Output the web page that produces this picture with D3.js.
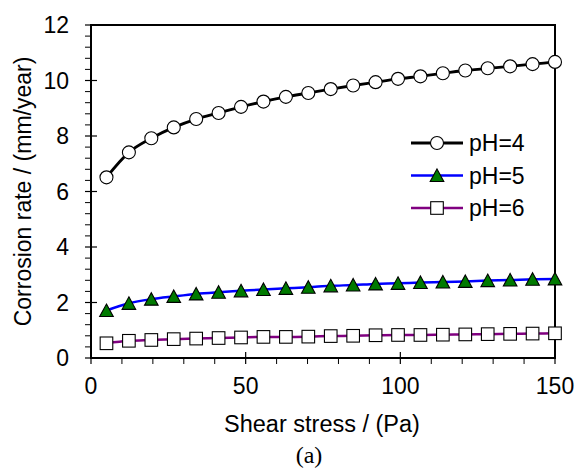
<!DOCTYPE html>
<html>
<head>
  <meta charset="utf-8">
  <title>Corrosion rate vs shear stress</title>
  <script src="https://d3js.org/d3.v7.min.js"></script>
  <style>
    html, body { margin: 0; background: #fff; overflow: hidden; }
    text { font-family: "Liberation Sans", Arial, sans-serif; fill: #000; }
  </style>
</head>
<body>
  <div id="chart"></div>
  <script>
    // shear stress (Pa)
    const shear = [5, 12.25, 19.5, 26.75, 34, 41.25, 48.5, 55.75, 63, 70.25, 77.5,
                   84.75, 92, 99.25, 106.5, 113.75, 121, 128.25, 135.5, 142.75, 150];
    // corrosion rate (mm/year)
    const ph4 = [6.51, 7.41, 7.92, 8.31, 8.61, 8.83, 9.05, 9.24, 9.41, 9.55, 9.69,
                 9.82, 9.94, 10.06, 10.15, 10.26, 10.36, 10.44, 10.51, 10.59, 10.67];
    const ph5 = [1.71, 1.97, 2.12, 2.22, 2.31, 2.37, 2.42, 2.47, 2.51, 2.55, 2.60,
                 2.63, 2.67, 2.69, 2.72, 2.74, 2.76, 2.79, 2.81, 2.84, 2.85];
    const ph6 = [0.53, 0.62, 0.65, 0.68, 0.70, 0.72, 0.74, 0.76, 0.76, 0.77, 0.79,
                 0.80, 0.82, 0.83, 0.83, 0.84, 0.85, 0.86, 0.87, 0.88, 0.89];
    const seriesNames = ['pH=4', 'pH=5', 'pH=6'];
    const xTicks = [0, 50, 100, 150];
    const yTicks = [0, 2, 4, 6, 8, 10, 12];

    const W = 575, H = 468;
    const m = { left: 91, right: 20, top: 25, bottom: 110 };

    const svg = d3.select('#chart').append('svg')
      .attr('width', W).attr('height', H);

    const x = d3.scaleLinear().domain([0, 150]).range([m.left, W - m.right]);
    const y = d3.scaleLinear().domain([0, 12]).range([H - m.bottom, m.top]);

    const series = [
      { name: seriesNames[0], values: ph4, line: '#000', width: 2.8, shape: 'circle', fill: '#fff' },
      { name: seriesNames[1], values: ph5, line: '#0000ff', width: 2.5, shape: 'triangle', fill: '#007a00' },
      { name: seriesNames[2], values: ph6, line: '#800080', width: 2.5, shape: 'square', fill: '#fff' }
    ];

    // frame
    svg.append('rect')
      .attr('x', x(0)).attr('y', y(12))
      .attr('width', x(150) - x(0)).attr('height', y(0) - y(12))
      .attr('fill', 'none').attr('stroke', '#000').attr('stroke-width', 2);

    // minor ticks
    const xMinor = d3.range(0, 151, 10).filter(v => v % 50 !== 0);
    svg.append('g').selectAll('line').data(xMinor).join('line')
      .attr('x1', d => x(d)).attr('x2', d => x(d))
      .attr('y1', y(0)).attr('y2', y(0) + 6)
      .attr('stroke', '#000').attr('stroke-width', 1);
    const yMinor = d3.range(0, 12.01, 0.4).filter(v => Math.abs(v / 2 - Math.round(v / 2)) > 0.01);
    svg.append('g').selectAll('line').data(yMinor).join('line')
      .attr('x1', x(0) - 6).attr('x2', x(0))
      .attr('y1', d => y(d)).attr('y2', d => y(d))
      .attr('stroke', '#000').attr('stroke-width', 1);

    // major ticks (crossing)
    svg.append('g').selectAll('line').data(xTicks).join('line')
      .attr('x1', d => x(d)).attr('x2', d => x(d))
      .attr('y1', y(0) - 6).attr('y2', y(0) + 6)
      .attr('stroke', '#000').attr('stroke-width', 1.2);
    svg.append('g').selectAll('line').data(yTicks).join('line')
      .attr('x1', x(0) - 6).attr('x2', x(0) + 6)
      .attr('y1', d => y(d)).attr('y2', d => y(d))
      .attr('stroke', '#000').attr('stroke-width', 1.2);

    // tick labels
    svg.append('g').selectAll('text').data(xTicks).join('text')
      .attr('x', d => x(d)).attr('y', 386).attr('dy', '0.35em')
      .attr('text-anchor', 'middle').attr('font-size', 23)
      .text(d => d);
    svg.append('g').selectAll('text').data(yTicks).join('text')
      .attr('x', 69).attr('y', d => y(d)).attr('dy', '0.35em')
      .attr('text-anchor', 'end').attr('font-size', 23)
      .text(d => d);

    // axis titles
    svg.append('text')
      .attr('x', 322).attr('y', 432)
      .attr('text-anchor', 'middle').attr('font-size', 23.5)
      .text('Shear stress / (Pa)');
    svg.append('text')
      .attr('transform', `translate(23,${(y(0) + y(12)) / 2}) rotate(-90)`)
      .attr('dy', '0.35em')
      .attr('text-anchor', 'middle').attr('font-size', 23)
      .text('Corrosion rate / (mm/year)');
    svg.append('text')
      .attr('x', 309).attr('y', 463)
      .attr('text-anchor', 'middle').attr('font-size', 24)
      .style('font-family', '"Liberation Serif", "Times New Roman", serif')
      .text('(a)');

    function marker(g, s) {
      if (s.shape === 'circle') {
        g.append('circle').attr('r', 6.5);
      } else if (s.shape === 'triangle') {
        g.append('path').attr('d', 'M0,-6.5L6.8,6L-6.8,6Z');
      } else {
        g.append('rect').attr('x', -6.3).attr('y', -6.3).attr('width', 12.6).attr('height', 12.6);
      }
      g.selectAll('*').attr('fill', s.fill).attr('stroke', '#000').attr('stroke-width', 1.1);
    }

    const line = d3.line().x((d, i) => x(shear[i])).y(d => y(d)).curve(d3.curveMonotoneX);

    series.slice().reverse().forEach(s => {
      svg.append('path').datum(s.values)
        .attr('d', line)
        .attr('fill', 'none').attr('stroke', s.line).attr('stroke-width', s.width);
      svg.append('g').selectAll('g').data(s.values).join('g')
        .attr('transform', (d, i) => `translate(${x(shear[i])},${y(d)})`)
        .each(function () { marker(d3.select(this), s); });
    });

    // legend
    const legend = svg.append('g').attr('transform', 'translate(411,143)');
    series.forEach((s, i) => {
      const row = legend.append('g').attr('transform', `translate(0,${i * 32.5})`);
      row.append('line').attr('x1', 0).attr('x2', 52).attr('y1', 0).attr('y2', 0)
        .attr('stroke', s.line).attr('stroke-width', s.width);
      marker(row.append('g').attr('transform', 'translate(26,0)'), s);
      row.append('text').attr('x', 58).attr('dy', '0.35em')
        .attr('font-size', 23).text(s.name);
    });
  </script>
</body>
</html>
